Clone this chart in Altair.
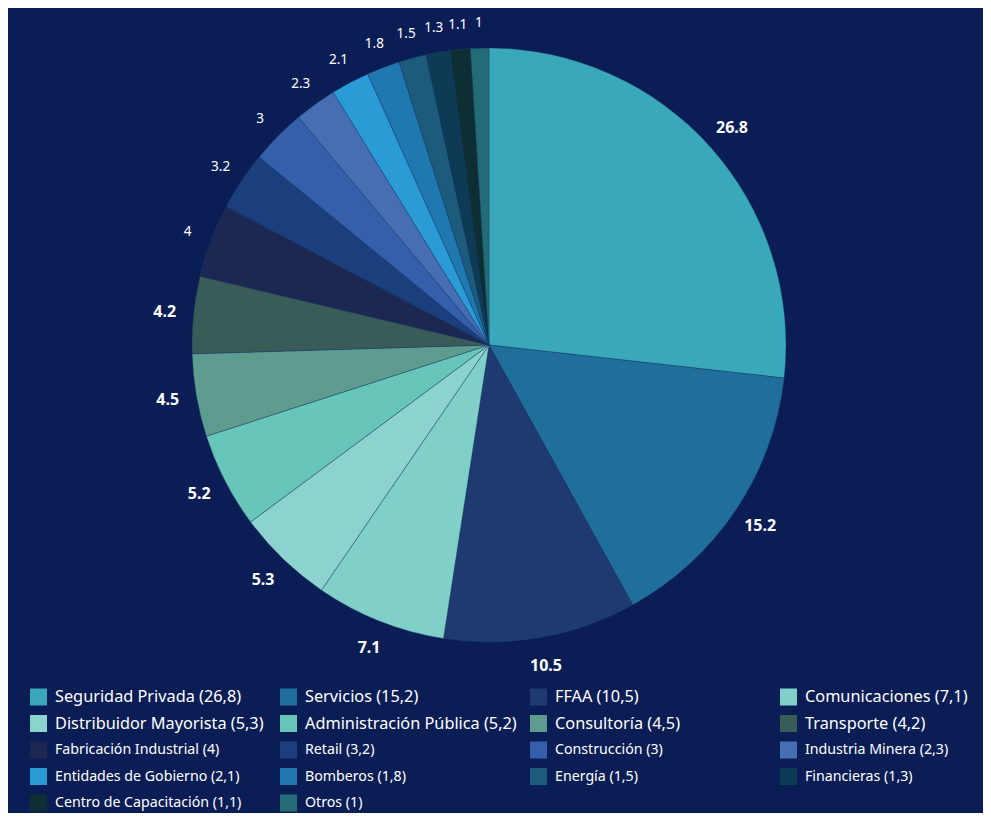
import altair as alt
import pandas as pd

categories = ["Seguridad Privada", "Servicios", "FFAA", "Comunicaciones",
              "Distribuidor Mayorista", "Administración Pública", "Consultoría", "Transporte",
              "Fabricación Industrial", "Retail", "Construcción", "Industria Minera",
              "Entidades de Gobierno", "Bomberos", "Energía", "Financieras",
              "Centro de Capacitación", "Otros"]
values = [26.8, 15.2, 10.5, 7.1, 5.3, 5.2, 4.5, 4.2, 4.0, 3.2, 3.0, 2.3, 2.1, 1.8, 1.5, 1.3, 1.1, 1.0]
colors = ["#3aa8bb", "#1f6e9c", "#1f3a70", "#80cfc8",
          "#8cd3cf", "#68c5b9", "#5e9c90", "#3a5c58",
          "#1c2752", "#1b3f7c", "#365fab", "#476db3",
          "#2b9bd6", "#1f78b0", "#1c5b7c", "#0d3a55",
          "#0d2f33", "#236c75"]

def fmt_label(v):
    return ("%g" % v)

def fmt_legend(v):
    return ("%g" % v).replace(".", ",")

df = pd.DataFrame({
    "cat": categories,
    "value": values,
    "idx": list(range(len(categories))),
})
df["label"] = [fmt_label(v) for v in values]
df["legend"] = [f"{c} ({fmt_legend(v)})" for c, v in zip(categories, values)]
df["col"] = df["idx"] % 4
df["row"] = df["idx"] // 4
df["big"] = df["value"] >= 4.2
df["bigleg"] = df["row"] < 2

color_scale = alt.Scale(domain=categories, range=colors)
CX, CY, R = 481, 337, 297

base = alt.Chart(df)

pie = base.mark_arc(stroke="#1a3d66", strokeWidth=0.4).encode(
    theta=alt.Theta("value:Q", stack=True),
    order=alt.Order("idx:Q"),
    color=alt.Color("cat:N", scale=color_scale, legend=None),
    x=alt.value(CX), y=alt.value(CY),
    radius=alt.value(R),
)

lbl_small = base.mark_text(font="Noto Sans", fontSize=13.5, color="white").encode(
    theta=alt.Theta("value:Q", stack=True),
    order=alt.Order("idx:Q"),
    text="label:N",
    x=alt.value(CX), y=alt.value(CY),
    radius=alt.value(322),
    opacity=alt.condition(alt.datum.big, alt.value(0), alt.value(1)),
)
lbl_big = base.mark_text(font="Noto Sans", fontSize=16, fontWeight="bold", color="white").encode(
    theta=alt.Theta("value:Q", stack=True),
    order=alt.Order("idx:Q"),
    text="label:N",
    x=alt.value(CX), y=alt.value(CY),
    radius=alt.value(326),
    opacity=alt.condition(alt.datum.big, alt.value(1), alt.value(0)),
)

xs = alt.Scale(domain=[0, 1], range=[30.5, 280.5])
ys = alt.Scale(domain=[0, 1], range=[689, 715.5])

leg_sq = base.mark_square(size=290, opacity=1).encode(
    x=alt.X("col:Q", scale=xs, axis=None),
    y=alt.Y("row:Q", scale=ys, axis=None),
    color=alt.Color("cat:N", scale=color_scale, legend=None),
)
leg_txt_big = base.mark_text(align="left", baseline="middle", dx=16.5, font="Noto Sans",
                             fontSize=16.3, color="white").encode(
    x=alt.X("col:Q", scale=xs, axis=None),
    y=alt.Y("row:Q", scale=ys, axis=None),
    text="legend:N",
).transform_filter(alt.datum.bigleg)
leg_txt_small = base.mark_text(align="left", baseline="middle", dx=16.5, font="Noto Sans",
                               fontSize=14.2, color="white").encode(
    x=alt.X("col:Q", scale=xs, axis=None),
    y=alt.Y("row:Q", scale=ys, axis=None),
    text="legend:N",
).transform_filter(~alt.datum.bigleg)

chart = alt.layer(pie, lbl_big, lbl_small, leg_sq, leg_txt_big, leg_txt_small).properties(
    width=975, height=805, padding=0, background="#0b1d55",
    autosize=alt.AutoSizeParams(type="none"),
).configure_view(stroke=None)

chart.save("out.html", embed_options={"renderer": "svg", "actions": False})
